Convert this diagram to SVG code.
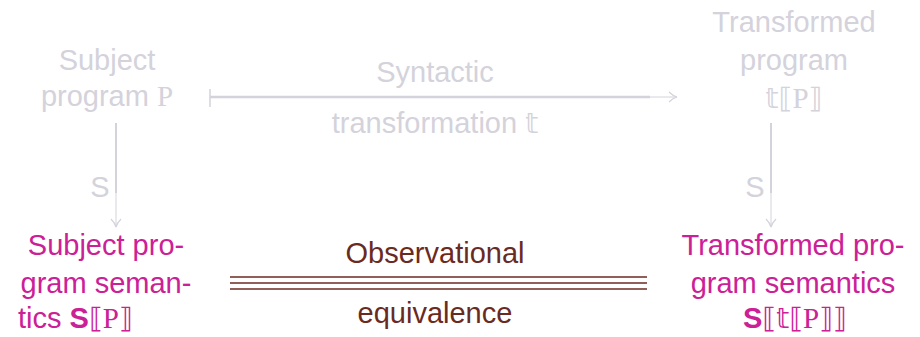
<svg xmlns="http://www.w3.org/2000/svg" width="920" height="337" viewBox="0 0 920 337">
<style>
text{font-family:"Liberation Sans","Arial",sans-serif;font-size:29px;text-anchor:middle}
.g{fill:#d4d2db}
.m{fill:#cc2096}
.b{fill:#6b2a1f}
.ser{font-family:"Liberation Serif","DejaVu Serif",serif}
.sym{font-family:"DejaVu Sans","DejaVu Serif",sans-serif;font-size:28px}
.gl{stroke:#d4d2db;fill:none}
</style>
<defs>
<marker id="ah" markerWidth="10" markerHeight="12" refX="9" refY="6" orient="auto" markerUnits="userSpaceOnUse">
<path d="M1,1 Q5,5 9,6 Q5,7 1,11" fill="none" stroke="#d4d2db" stroke-width="1.2"/>
</marker>
</defs>
<g id="subject-program">
<text class="g" x="107" y="70">Subject</text>
<text class="g" x="107" y="106">program <tspan class="ser">P</tspan></text>
</g>
<g id="transformed-program">
<text class="g" x="794" y="32">Transformed</text>
<text class="g" x="794" y="70">program</text>
<text class="g" x="794" y="108"><tspan class="sym">𝕥⟦</tspan><tspan class="ser">P</tspan><tspan class="sym">⟧</tspan></text>
</g>
<g id="subject-semantics">
<text class="m" x="106" y="255">Subject pro-</text>
<text class="m" x="106" y="293">gram seman-</text>
<text class="m" x="18" y="328" style="text-anchor:start">tics <tspan font-weight="bold">S</tspan><tspan class="sym">⟦</tspan><tspan class="ser">P</tspan><tspan class="sym">⟧</tspan></text>
</g>
<g id="transformed-semantics">
<text class="m" x="793" y="255">Transformed pro-</text>
<text class="m" x="793" y="293">gram semantics</text>
<text class="m" x="795" y="328"><tspan font-weight="bold">S</tspan><tspan class="sym">⟦𝕥⟦</tspan><tspan class="ser">P</tspan><tspan class="sym">⟧⟧</tspan></text>
</g>
<g id="connectors">
<line class="gl" x1="210" y1="89" x2="210" y2="107" stroke-width="1.5"/>
<line class="gl" x1="210" y1="97" x2="650" y2="97" stroke-width="2.5"/>
<line class="gl" x1="650" y1="97" x2="677" y2="97" stroke-width="1" marker-end="url(#ah)"/>
<text class="g" x="435" y="82">Syntactic</text>
<text class="g" x="435" y="133">transformation <tspan class="sym">𝕥</tspan></text>
<line class="gl" x1="116" y1="123" x2="116" y2="193" stroke-width="2"/>
<line class="gl" x1="116" y1="193" x2="116" y2="227" stroke-width="1" marker-end="url(#ah)"/>
<text class="g" x="100" y="197">S</text>
<line class="gl" x1="771" y1="123" x2="771" y2="193" stroke-width="2"/>
<line class="gl" x1="771" y1="193" x2="771" y2="227" stroke-width="1" marker-end="url(#ah)"/>
<text class="g" x="755" y="197">S</text>
<g stroke="#6b2a1f" stroke-width="1.6">
<line x1="230" y1="277" x2="647" y2="277"/>
<line x1="230" y1="283" x2="647" y2="283"/>
<line x1="230" y1="289" x2="647" y2="289"/>
</g>
<text class="b" x="435" y="263">Observational</text>
<text class="b" x="435" y="323">equivalence</text>
</g>
</svg>
